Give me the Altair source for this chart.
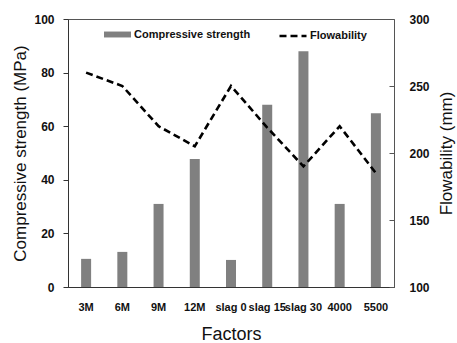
import altair as alt
import pandas as pd

categories = ["3M", "6M", "9M", "12M", "slag 0", "slag 15", "slag 30", "4000", "5500"]
strength = [10.5, 13.1, 31, 47.8, 10.1, 68, 88, 31, 64.8]
flow = [260, 250, 220, 205, 250, 219, 190, 220, 185]

df = pd.DataFrame({"cat": categories, "strength": strength, "flow": flow})

FONT = "Liberation Sans"

x_enc = alt.X(
    "cat:N",
    sort=categories,
    scale=alt.Scale(paddingInner=0, paddingOuter=0),
    axis=alt.Axis(
        title="Factors", labelAngle=0, ticks=False, labelOverlap=False,
        labelFont=FONT, labelFontSize=11, labelFontWeight="bold", labelColor="#111",
        labelPadding=14, titleFont=FONT, titleFontSize=18, titleFontWeight="normal",
        titleColor="#111", titlePadding=13, domainColor="#333", labelLimit=0,
    ),
)

bars = alt.Chart(df).transform_calculate(s1="'Compressive strength'").mark_bar(
    size=10, color="#808080"
).encode(
    x=x_enc,
    y=alt.Y(
        "strength:Q",
        scale=alt.Scale(domain=[0, 100], nice=False),
        axis=alt.Axis(
            title="Compressive strength (MPa)", values=[0, 20, 40, 60, 80, 100],
            grid=False, tickSize=5, tickColor="#333", domainColor="#333",
            labelFont=FONT, labelFontSize=12, labelFontWeight="bold", labelColor="#111",
            labelPadding=9, titleFont=FONT, titleFontSize=17, titleFontWeight="normal",
            titleColor="#111", titlePadding=4,
        ),
    ),
    color=alt.Color(
        "s1:N",
        scale=alt.Scale(domain=["Compressive strength"], range=["#808080"]),
        legend=alt.Legend(
            title=None, orient="none", legendX=36, legendY=2, padding=0,
            symbolType="M-1,-0.22H1V0.22H-1Z", symbolSize=729, symbolStrokeWidth=0,
            labelFont=FONT, labelFontSize=11, labelFontWeight="bold", labelColor="#111",
            labelOffset=3,
        ),
    ),
)

line = alt.Chart(df).transform_calculate(s2="'Flowability'").mark_line(
    color="black", strokeWidth=2.6
).encode(
    x=alt.X("cat:N", sort=categories),
    y=alt.Y(
        "flow:Q",
        scale=alt.Scale(domain=[100, 300], nice=False),
        axis=alt.Axis(
            orient="right", title="Flowability (mm)", values=[100, 150, 200, 250, 300],
            grid=False, domain=False, offset=-5, tickSize=5, tickColor="#555",
            labelFont=FONT, labelFontSize=12, labelFontWeight="bold", labelColor="#111",
            labelPadding=15, titleFont=FONT, titleFontSize=17, titleFontWeight="normal",
            titleColor="#111", titleAngle=270, titlePadding=26,
        ),
    ),
    strokeDash=alt.StrokeDash(
        "s2:N",
        scale=alt.Scale(domain=["Flowability"], range=[[7, 4]]),
        legend=alt.Legend(
            title=None, orient="none", legendX=210, legendY=2, padding=0,
            symbolType="stroke", symbolSize=729, symbolStrokeWidth=2.6,
            symbolStrokeColor="black",
            labelFont=FONT, labelFontSize=11, labelFontWeight="bold", labelColor="#111",
            labelOffset=2,
        ),
    ),
)

chart = alt.layer(bars, line).resolve_scale(
    y="independent", color="independent", strokeDash="independent"
).properties(
    width=326, height=268,
    autosize=alt.AutoSizeParams(type="none"),
    padding={"left": 68, "top": 19, "right": 63, "bottom": 56},
    background="white",
).configure_view(stroke="#555", strokeWidth=1)

chart.save("out.html", embed_options={"renderer": "svg", "actions": False})
